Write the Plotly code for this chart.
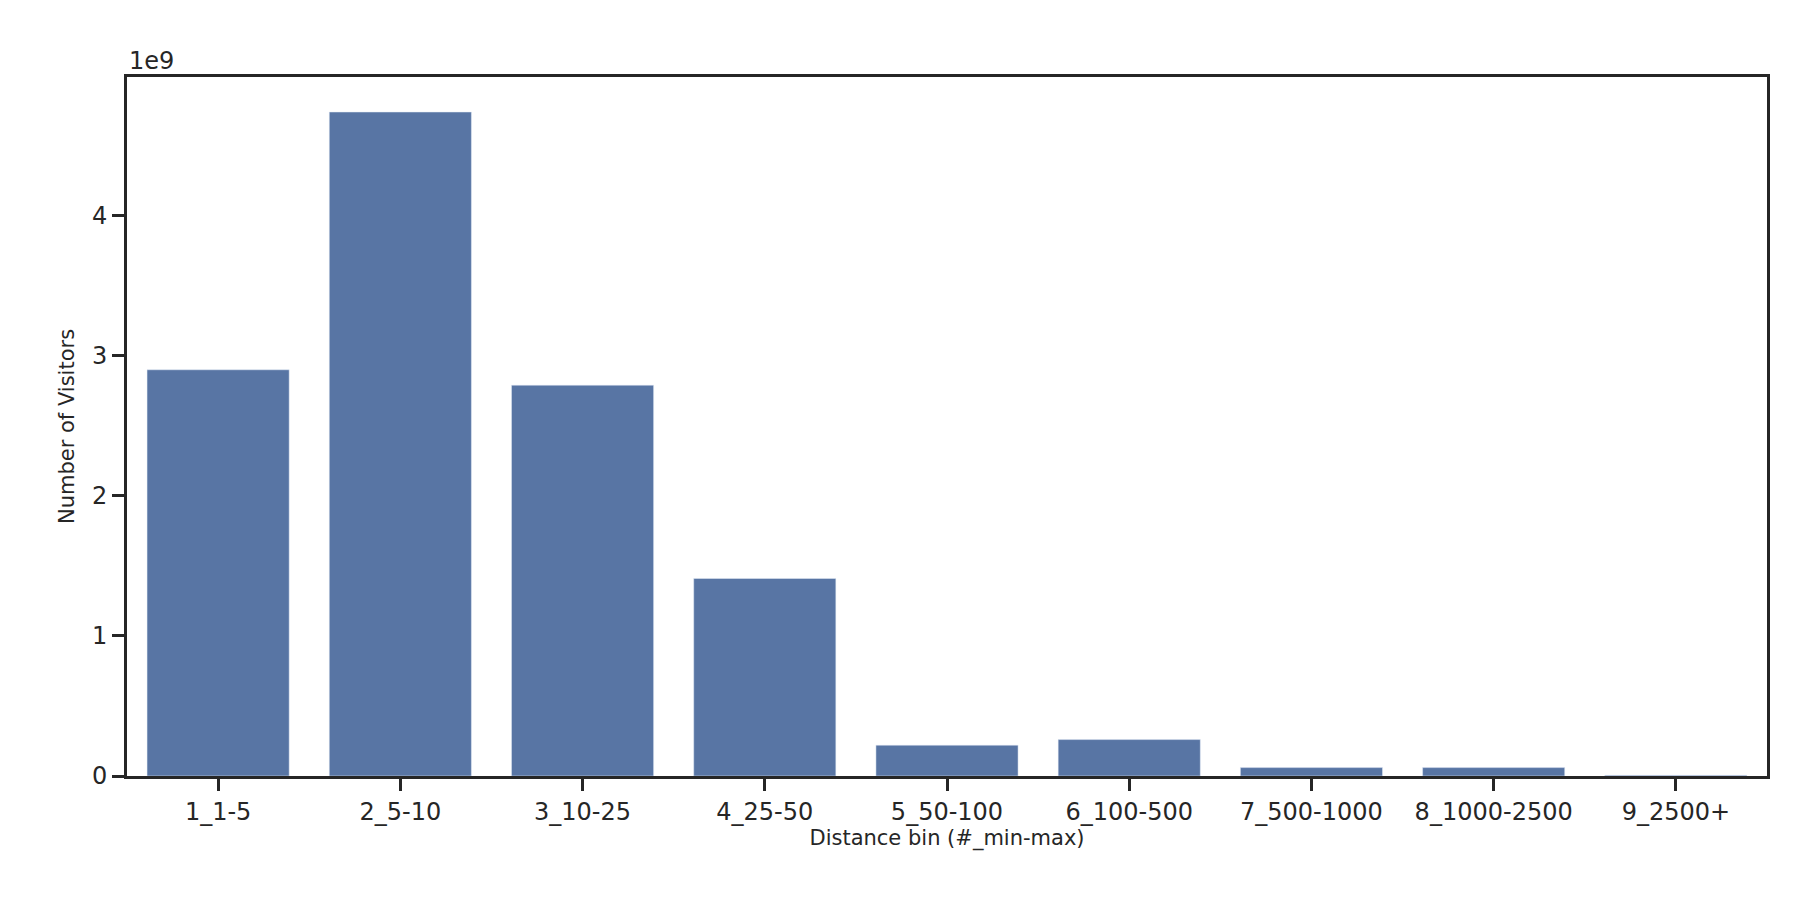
import plotly.graph_objects as go

categories = ["1_1-5", "2_5-10", "3_10-25", "4_25-50", "5_50-100", "6_100-500", "7_500-1000", "8_1000-2500", "9_2500+"]
visitors_e9 = [2.90, 4.74, 2.79, 1.41, 0.22, 0.26, 0.06, 0.06, 0.005]

fig = go.Figure(go.Bar(x=categories, y=visitors_e9, marker_color="#5875a4", width=0.78))
fig.update_layout(
    width=1800, height=900, plot_bgcolor="white", paper_bgcolor="white",
    margin=dict(l=119, r=41, t=69, b=132), showlegend=False,
    font=dict(family="DejaVu Sans", color="#262626", size=24),
    bargap=0.22,
)
axis_common = dict(showline=True, linecolor="#262626", linewidth=3, mirror=True,
                   ticks="outside", ticklen=12, tickwidth=3, tickcolor="#262626",
                   showgrid=False, zeroline=False)
fig.update_xaxes(range=[-0.5, 8.5], title=dict(text="Distance bin (#_min-max)", font=dict(size=21), standoff=6), **axis_common)
fig.update_yaxes(range=[0, 4.99], tickvals=[0, 1, 2, 3, 4], title=dict(text="Number of Visitors", font=dict(size=21), standoff=12), **axis_common)
fig.add_annotation(text="1e9", xref="paper", yref="paper", x=0, y=1, xanchor="left", yanchor="bottom",
                   showarrow=False, font=dict(size=24))
fig.write_html("out.html")
